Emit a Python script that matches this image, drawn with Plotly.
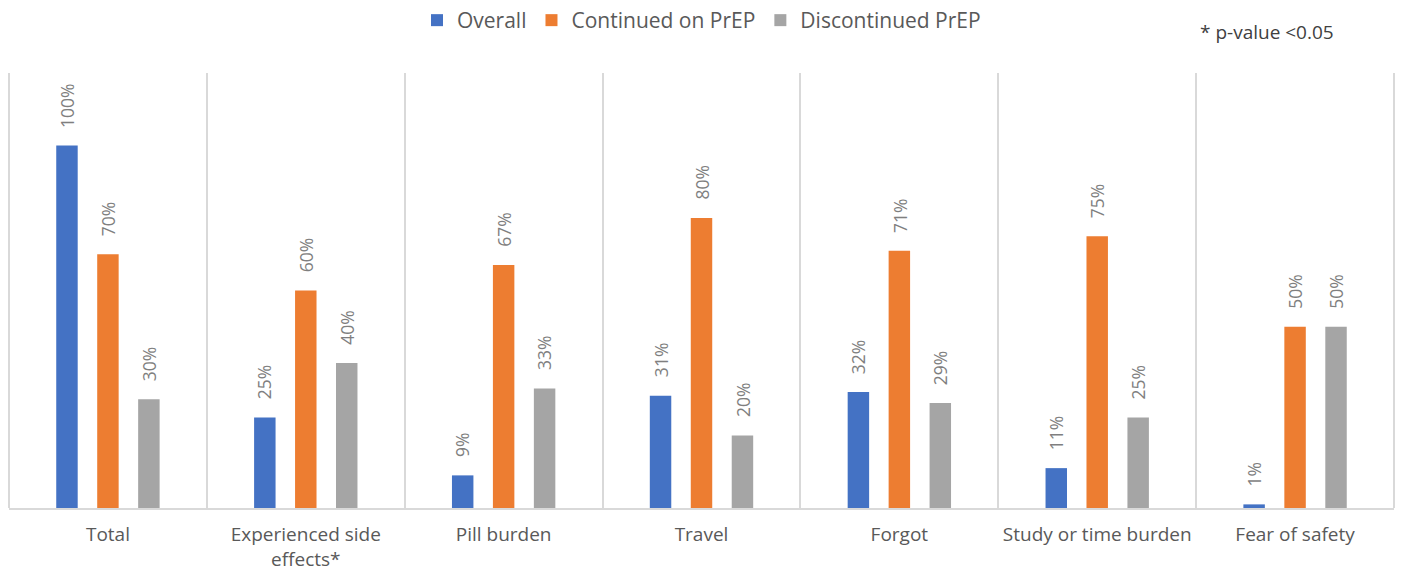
import plotly.graph_objects as go

categories = ["Total", "Experienced side<br>effects*", "Pill burden", "Travel", "Forgot",
              "Study or time burden", "Fear of safety"]
overall = [100, 25, 9, 31, 32, 11, 1]
continued = [70, 60, 67, 80, 71, 75, 50]
discontinued = [30, 40, 33, 20, 29, 25, 50]

series = [
    ("Overall", overall, "#4472C4"),
    ("Continued on PrEP", continued, "#ED7D31"),
    ("Discontinued PrEP", discontinued, "#A5A5A5"),
]

FONT = "Open Sans, sans-serif"
BAR_STEP_PX = 41

fig = go.Figure()
annotations = []
for i, (name, vals, color) in enumerate(series):
    fig.add_trace(go.Bar(
        x=categories,
        y=[v / 100 for v in vals],
        name=name,
        marker=dict(color=color, line=dict(width=0)),
        cliponaxis=False,
    ))
    for cat, v in zip(categories, vals):
        annotations.append(dict(
            x=cat, y=v / 100, xref="x", yref="y", text=f"{v}%", showarrow=False,
            textangle=-90, xanchor="center", yanchor="bottom",
            xshift=(i - 1) * BAR_STEP_PX, yshift=16,
            font=dict(family=FONT, size=17.5, color="#7F7F7F"),
        ))

annotations.append(dict(text="* p-value <0.05", xref="paper", yref="paper",
                        x=0.9084, y=1.094, xanchor="center", yanchor="middle",
                        showarrow=False, font=dict(family=FONT, size=19, color="#404040")))

edge_shapes = [dict(type="line", xref="paper", yref="paper", x0=x, x1=x, y0=0, y1=1,
                    line=dict(color="#D9D9D9", width=2), layer="below") for x in (0, 1)]

fig.update_layout(
    width=1401, height=574,
    margin=dict(l=8.5, r=6.5, t=73, b=66, autoexpand=False),
    paper_bgcolor="white", plot_bgcolor="white",
    barmode="group", bargap=0.379, bargroupgap=0.476,
    font=dict(family=FONT, color="#595959"),
    showlegend=True,
    legend=dict(orientation="h", x=0.5, xanchor="center", y=1.0, yref="container",
                yanchor="top", font=dict(family=FONT, size=21, color="#595959"),
                itemwidth=30, traceorder="normal"),
    xaxis=dict(type="category", tickson="boundaries", showgrid=True, gridcolor="#D9D9D9",
               gridwidth=2, showline=True, linecolor="#D9D9D9", linewidth=2,
               ticks="", tickfont=dict(family=FONT, size=19, color="#595959"),
               ticklabelstandoff=8, automargin=False),
    yaxis=dict(range=[0, 1.2], showgrid=False, showticklabels=False, zeroline=False,
               showline=False, ticks="", automargin=False),
    annotations=annotations,
    shapes=edge_shapes,
)

fig.write_html("out.html", config={"displayModeBar": False},
               post_script="document.body.style.margin='0';document.body.style.overflow='hidden';")
